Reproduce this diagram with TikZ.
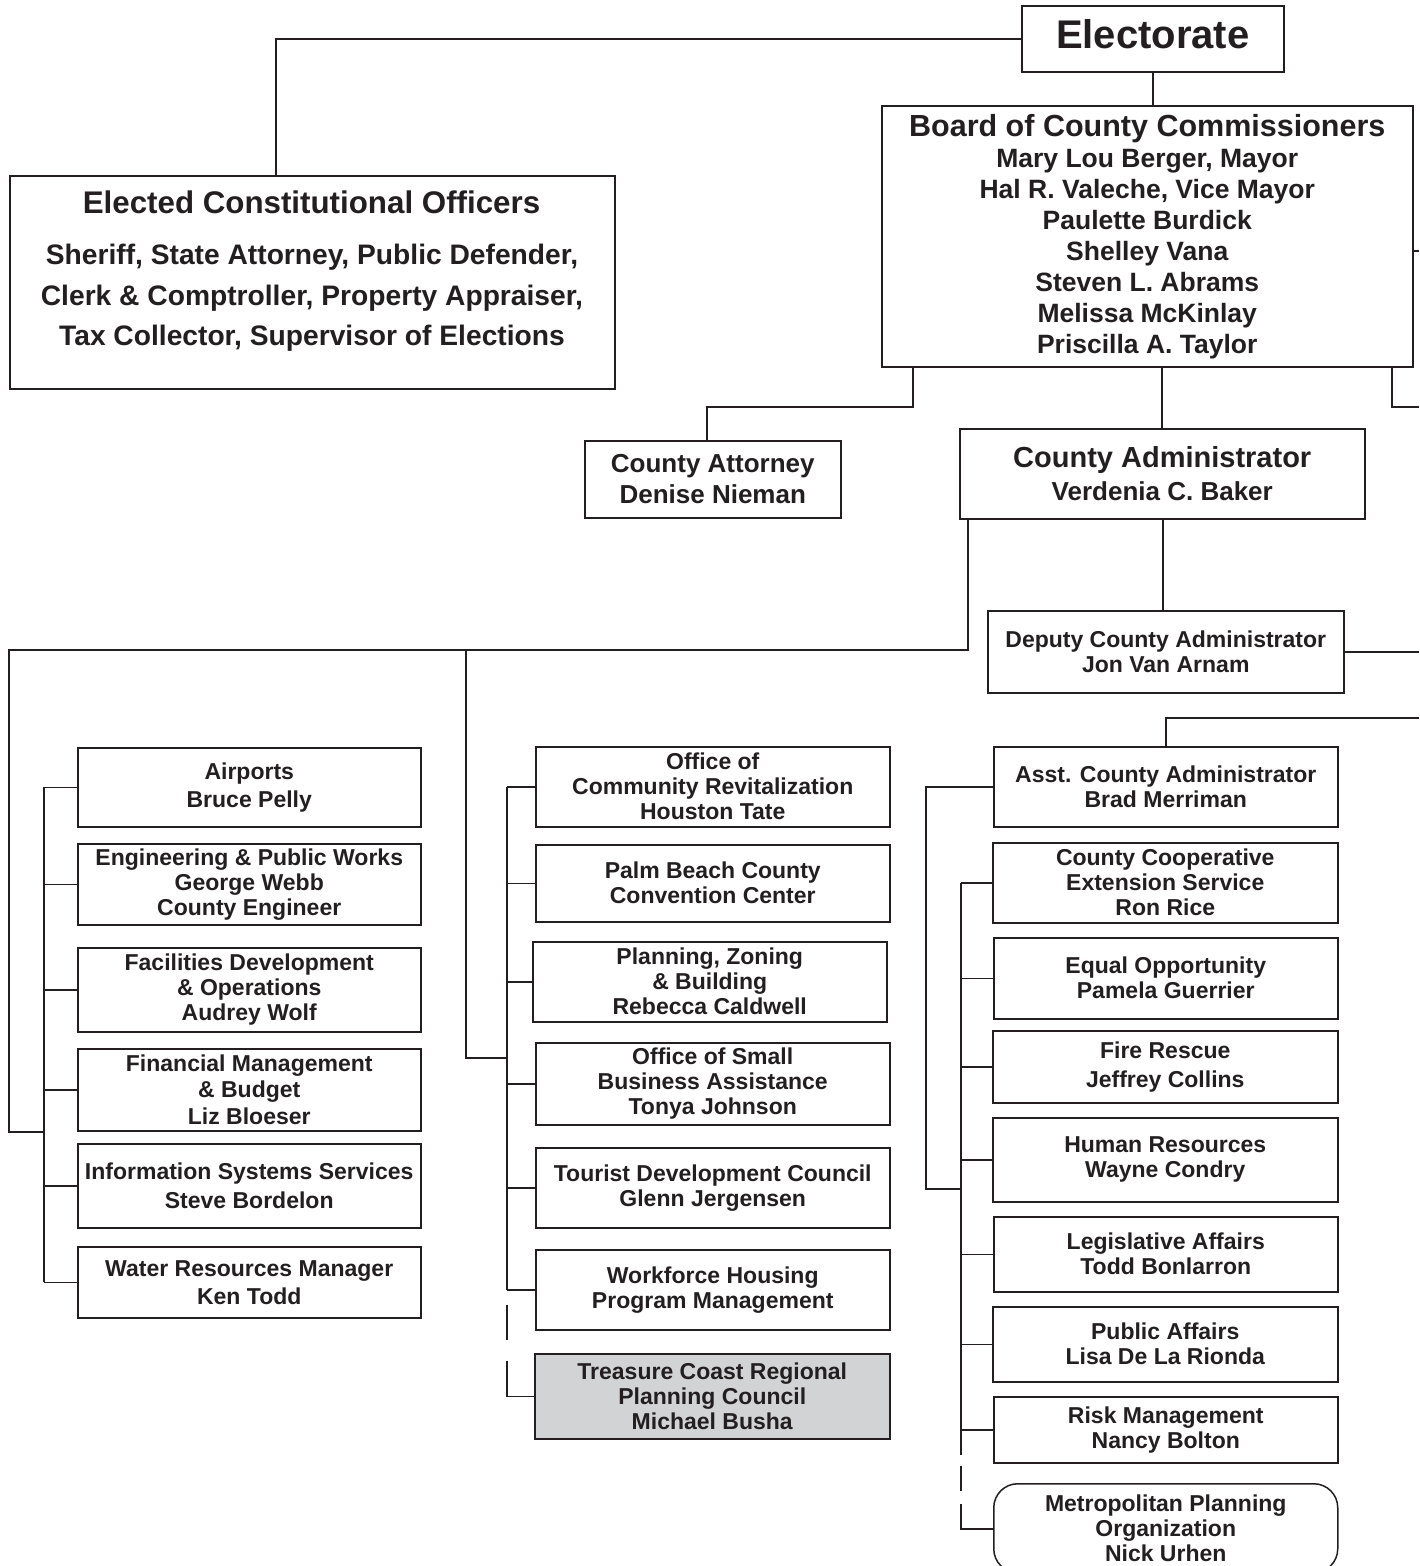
\documentclass[tikz,border=0pt]{standalone}
\usepackage{fontspec}
\setmainfont{Liberation Sans}
\usetikzlibrary{calc}
\definecolor{ink}{HTML}{231F20}
\definecolor{shade}{HTML}{D1D3D4}
\newcommand\obox[7]{\node[box,minimum width={#4-#2},minimum height={#5-#3},#6] (#1) at (#2,#3) {#7};}
\begin{document}
\begin{tikzpicture}[x=1pt,y=-1pt,
  box/.style={draw=ink, line width=1.5pt, fill=white, align=center, text=ink, inner sep=0pt, anchor=north west, font=\bfseries\fontsize{23}{25}\selectfont},
  lbl/.style={align=center, text=ink, inner sep=0pt},
  ln/.style={draw=ink, line width=1.5pt},
  grey/.style={fill=shade},
  rnd/.style={rounded corners=24pt}]
\useasboundingbox (0,0) rectangle (1419,1566);
\clip (0,0) rectangle (1419,1566);
\fill[white] (0,0) rectangle (1419,1566);

% top level
\obox{elect}{1021}{5}{1283}{71}{font=\bfseries\fontsize{40}{44}\selectfont,text depth=10pt}{Electorate}
\obox{eco}{9}{175}{614}{388}{}{}
\node[lbl, font=\bfseries\fontsize{31.3}{34}\selectfont] (ecoTitle) at (311.5,202) {Elected Constitutional Officers};
\node[lbl, font=\bfseries\fontsize{28.2}{40.5}\selectfont] (ecoBody) at (312,298) {Sheriff, State Attorney, Public Defender,\\Clerk \& Comptroller, Property Appraiser,\\Tax Collector, Supervisor of Elections};
\obox{bcc}{881}{105}{1412}{366}{font=\bfseries\fontsize{26.5}{31}\selectfont}{{\fontsize{30.5}{31}\selectfont Board of County Commissioners}\\Mary Lou Berger, Mayor\\Hal R. Valeche, Vice Mayor\\Paulette Burdick\\Shelley Vana\\Steven L. Abrams\\Melissa McKinlay\\Priscilla A. Taylor}
\obox{catty}{584}{440}{840}{517}{font=\bfseries\fontsize{26}{31}\selectfont}{County Attorney\\Denise Nieman}
\obox{cadm}{959}{428}{1364}{518}{font=\bfseries\fontsize{26}{33}\selectfont}{{\fontsize{29}{33}\selectfont County Administrator}\\Verdenia C. Baker}
\obox{dep}{987}{610}{1343}{692}{}{Deputy County Administrator\\Jon Van Arnam}

% left column
\obox{air}{77}{747}{420}{826}{}{Airports\\[3pt]Bruce Pelly}
\obox{eng}{77}{843}{420}{924}{}{Engineering \& Public Works\\George Webb\\County Engineer}
\obox{fac}{77}{947}{420}{1031}{}{Facilities Development\\\& Operations\\Audrey Wolf}
\obox{fin}{77}{1048}{420}{1130}{}{Financial Management\\[1.5pt]\& Budget\\[1.5pt]Liz Bloeser}
\obox{iss}{77}{1143}{420}{1227}{}{Information Systems Services\\[4pt]Steve Bordelon}
\obox{wat}{77}{1246}{420}{1317}{}{Water Resources Manager\\[3pt]Ken Todd}

% middle column
\obox{ocr}{535}{746}{889}{826}{}{Office of\\Community Revitalization\\Houston Tate}
\obox{pbc}{535}{844}{889}{921}{}{Palm Beach County\\Convention Center}
\obox{pzb}{532}{941}{886}{1021}{}{Planning, Zoning\\\& Building\\Rebecca Caldwell}
\obox{osb}{535}{1042}{889}{1124}{}{Office of Small\\Business Assistance\\Tonya Johnson}
\obox{tdc}{535}{1147}{889}{1227}{}{Tourist Development Council\\Glenn Jergensen}
\obox{wfh}{535}{1249}{889}{1329}{}{Workforce Housing\\Program Management}
\obox{tcr}{534}{1353}{889}{1438}{grey}{Treasure Coast Regional\\Planning Council\\Michael Busha}

% right column
\obox{asst}{993}{746}{1337}{826}{}{Asst. County Administrator\\Brad Merriman}
\obox{cces}{992}{842}{1337}{922}{}{County Cooperative\\Extension Service\\Ron Rice}
\obox{eeo}{993}{937}{1337}{1018}{}{Equal Opportunity\\Pamela Guerrier}
\obox{fire}{992}{1030}{1337}{1102}{}{Fire Rescue\\[4pt]Jeffrey Collins}
\obox{hr}{992}{1117}{1337}{1201}{}{Human Resources\\Wayne Condry}
\obox{leg}{993}{1216}{1337}{1291}{}{Legislative Affairs\\Todd Bonlarron}
\obox{pub}{992}{1306}{1337}{1381}{}{Public Affairs\\Lisa De La Rionda}
\obox{risk}{993}{1396}{1337}{1462}{}{Risk Management\\Nancy Bolton}
\obox{mpo}{993}{1483}{1337}{1572}{rnd}{Metropolitan Planning\\Organization\\Nick Urhen}

% helper coordinates
\coordinate (lb) at (44,0);
\coordinate (mb) at (507,0);
\coordinate (rb) at (961,0);
\coordinate (ecoTop) at (276,175);
\coordinate (bR1) at (1412,251);
\coordinate (eR1) at (1419,251);
\coordinate (bB1) at (1392,366);
\coordinate (eR2) at (1419,407);
\coordinate (bB2) at (913,366);
\coordinate (k1) at (913,407);
\coordinate (caT) at (707,440);
\coordinate (bB3) at (1162,366);
\coordinate (cadmT) at (1162,428);
\coordinate (cB1) at (968,518);
\coordinate (k2) at (968,650);
\coordinate (k3) at (9,1132);
\coordinate (k4) at (466,650);
\coordinate (k5) at (466,1058);
\coordinate (eR3) at (1419,718);
\coordinate (rc) at (926,1189);
\coordinate (cB2) at (1163,518);
\coordinate (dT) at (1163,610);

% connectors
\draw[ln] (elect.west) -| (ecoTop);
\draw[ln] (elect.south) -- (elect.south |- bcc.north);
\draw[ln] (bR1) -- (eR1);
\draw[ln] (bB1) |- (eR2);
\draw[ln] (bB2) -- (k1) -| (caT);
\draw[ln] (bB3) -- (cadmT);
\draw[ln] (cB1) -- (k2) -| (k3) -- (k3 -| lb);
\draw[ln] (k4) -- (k5) -- (k5 -| mb);
\draw[ln] (cB2) -- (dT);
\draw[ln] (dep.east) -- (dep.east -| eR1);
\draw[ln] (eR3) -| (asst.north);
\draw[ln] (asst.west) -| (rc) -- (rc -| rb);

% left bus
\draw[ln] (air.west -| lb) -- (wat.west -| lb);
\foreach \n in {air,eng,fac,fin,iss,wat} \draw[ln] (\n.west) -- (\n.west -| lb);

% middle bus
\draw[ln] (ocr.west -| mb) -- (wfh.west -| mb);
\foreach \n in {ocr,pbc,pzb,osb,tdc,wfh} \draw[ln] (\n.west) -- (\n.west -| mb);
\coordinate (md1) at (507,1305); \coordinate (md2) at (507,1340);
\coordinate (md3) at (507,1361);
\draw[ln] (md1) -- (md2);
\draw[ln] (md3) -- (md3 |- tcr.west) -- (tcr.west);

% right bus
\draw[ln] (cces.west -| rb) -- (risk.west -| rb);
\foreach \n in {cces,eeo,fire,hr,leg,pub,risk} \draw[ln] (\n.west) -- (\n.west -| rb);
\coordinate (rd1) at (961,1455);
\coordinate (rd2) at (961,1466); \coordinate (rd3) at (961,1491);
\coordinate (rd4) at (961,1504); \coordinate (rd5) at (961,1529);
\coordinate (mpoL) at (993,1529);
\draw[ln] (risk.west -| rb) -- (rd1);
\draw[ln] (rd2) -- (rd3);
\draw[ln] (rd4) -- (rd5) -- (mpoL);
\end{tikzpicture}
\end{document}
